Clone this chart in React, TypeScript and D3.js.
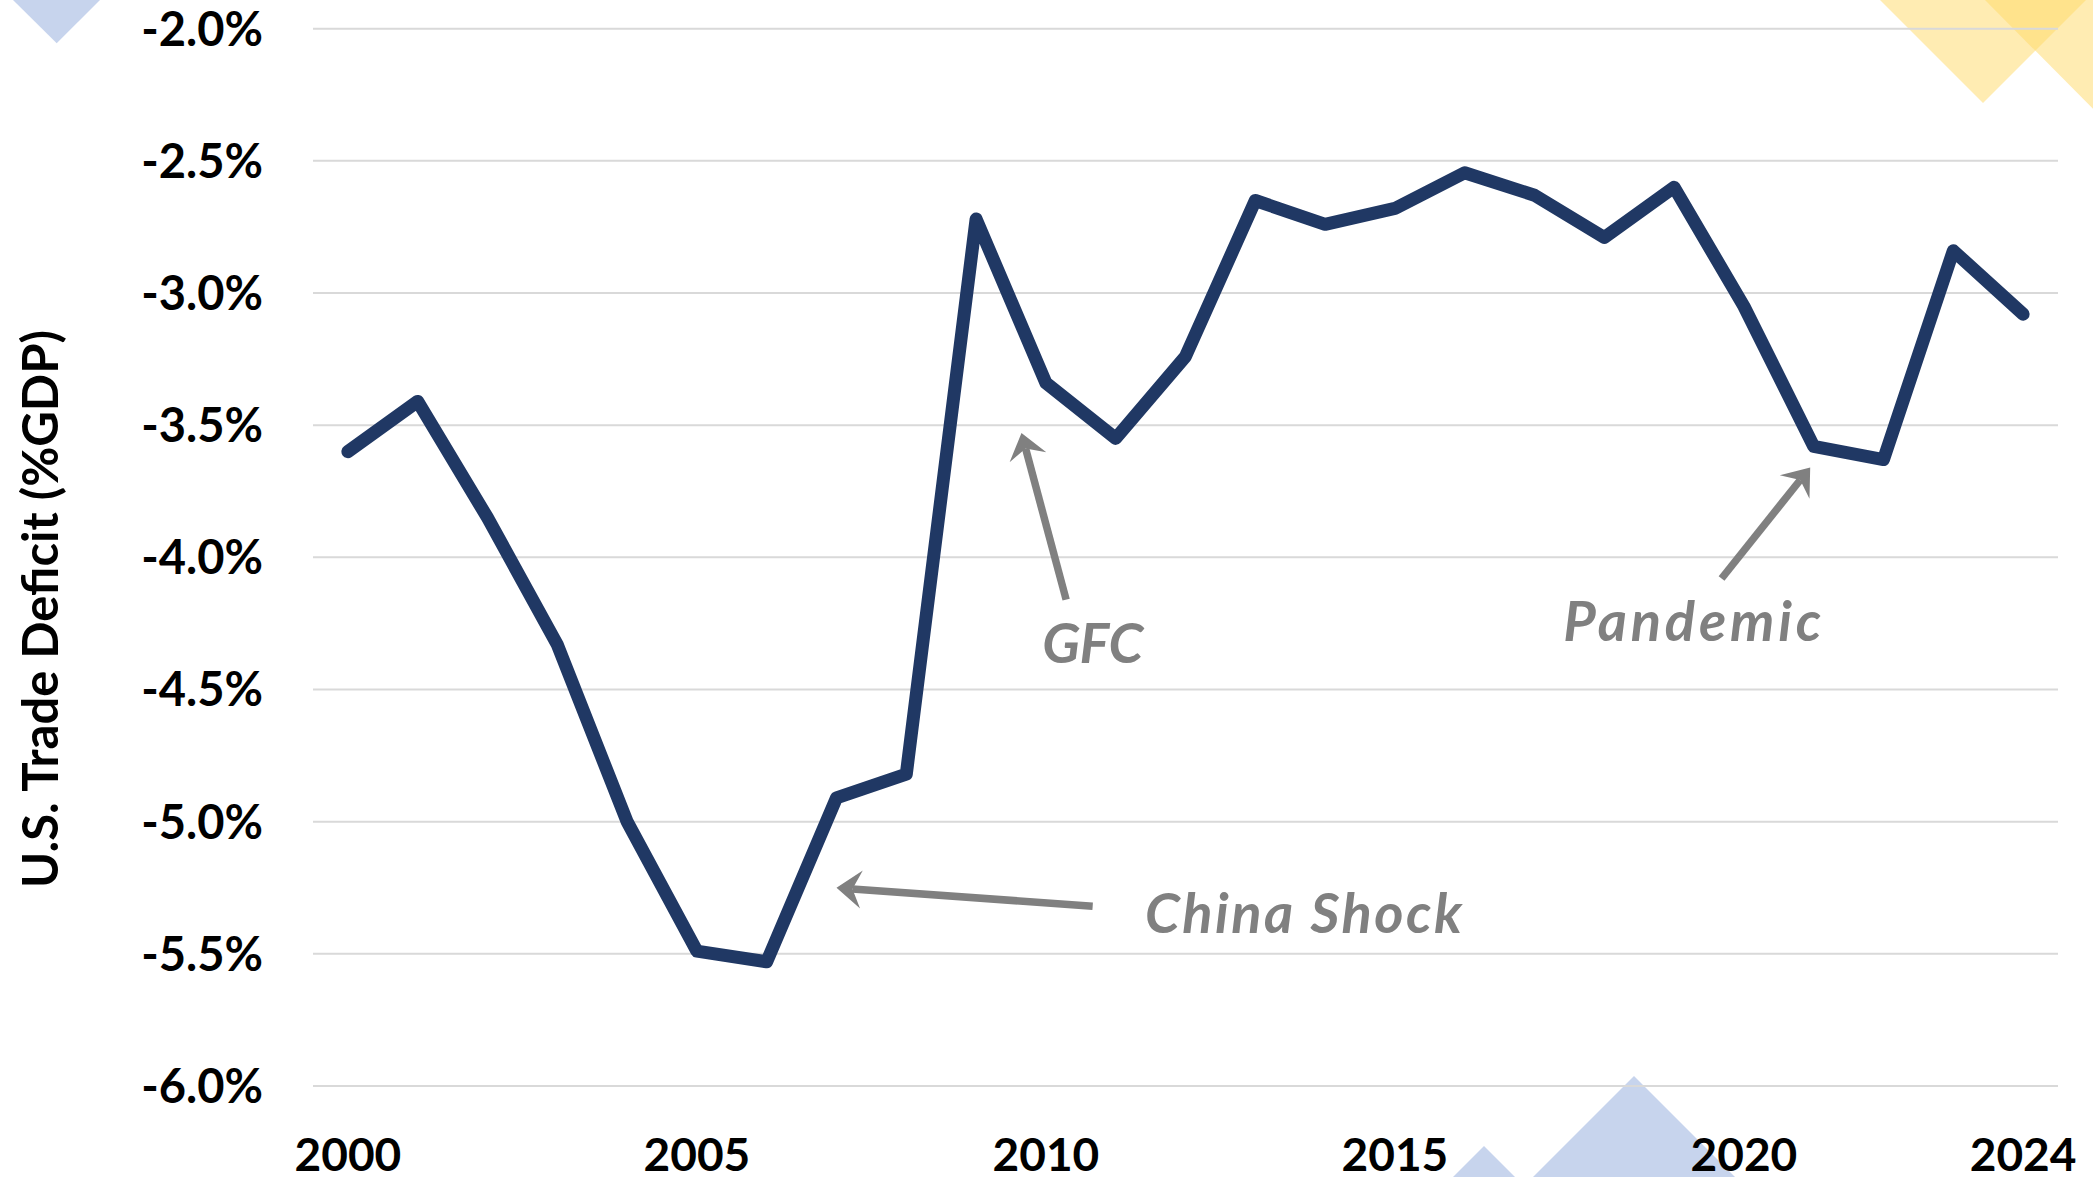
import React from "react";
import * as d3 from "d3";

const years: number[] = [
  2000, 2001, 2002, 2003, 2004, 2005, 2006, 2007, 2008, 2009, 2010, 2011, 2012,
  2013, 2014, 2015, 2016, 2017, 2018, 2019, 2020, 2021, 2022, 2023, 2024,
];
const deficitPct: number[] = [
  -3.6, -3.41, -3.85, -4.33, -5.0, -5.49, -5.53, -4.91, -4.82, -2.72, -3.34,
  -3.55, -3.24, -2.65, -2.74, -2.68, -2.545, -2.63, -2.79, -2.6, -3.05, -3.58,
  -3.63, -2.84, -3.08,
];
const yTicks: number[] = [-2.0, -2.5, -3.0, -3.5, -4.0, -4.5, -5.0, -5.5, -6.0];
const xTickYears: number[] = [2000, 2005, 2010, 2015, 2020, 2024];
const yTitle = "U.S. Trade Deficit (%GDP)";

// annotations in data space: [year, value]
const annotations = [
  { label: "GFC", tip: [2009.65, -3.53], tail: [2010.29, -4.16], text: [2010.67, -4.4], anchor: "middle", len: 101 },
  { label: "Pandemic", tip: [2020.95, -3.66], tail: [2019.68, -4.08], text: [2019.26, -4.316], anchor: "middle", len: 258 },
  { label: "China Shock", tip: [2007.0, -5.25], tail: [2010.67, -5.32], text: [2011.42, -5.42], anchor: "start", len: 317 },
];

const W = 2093;
const H = 1177;
const FONT = "Lato, 'Open Sans', sans-serif";

export default function App() {
  const x = d3.scalePoint<number>().domain(years).range([313, 2058]).padding(0.5);
  const xc = d3.scaleLinear().domain([2000, 2024]).range([x(2000)!, x(2024)!]);
  const y = d3.scaleLinear().domain([-6, -2]).range([1086, 28.7]);

  const line = d3
    .line<number>()
    .x((_, i) => x(years[i])!)
    .y((d) => y(d));

  const arrowHead = (tx: number, ty: number, fx: number, fy: number) => {
    const ang = Math.atan2(ty - fy, tx - fx);
    const L = 25;
    const hw = 19;
    const notch = 16;
    const cos = Math.cos(ang), sin = Math.sin(ang);
    const p = (a: number, b: number) => [tx - a * cos - b * -sin, ty - a * sin - b * cos];
    const pts = [p(0, 0), p(L, hw), p(notch, 0), p(L, -hw)];
    return pts.map((q) => q.join(",")).join(" ");
  };

  return (
    <svg
      width={W}
      height={H}
      style={{ position: "absolute", left: 0, top: 0, background: "#fff" }}
    >
      {/* decorative shapes */}
      <polygon points="13,0 100,0 56.7,43.3" fill="#8FAADC" opacity={0.5} />
      <polygon points="1880,0 2086,0 1983,103" fill="#FFD966" opacity={0.5} />
      <polygon points="1985,0 2240,0 2112,128" fill="#FFD966" opacity={0.5} />
      <polygon points="1533,1177 1634,1076 1735,1177" fill="#8FAADC" opacity={0.5} />
      <polygon points="1453,1177 1484,1146 1515,1177" fill="#8FAADC" opacity={0.5} />

      {/* gridlines */}
      {yTicks.map((t) => (
        <line key={t} x1={313} x2={2058} y1={y(t)} y2={y(t)} stroke="#D9D9D9" strokeWidth={2} />
      ))}

      {/* y tick labels */}
      {yTicks.map((t) => (
        <text
          key={"l" + t}
          x={263}
          y={y(t)}
          dy="0.36em"
          textAnchor="end"
          fontFamily={FONT}
          fontWeight={700}
          fontSize={47}
          fill="#000"
        >
          {t.toFixed(1) + "%"}
        </text>
      ))}

      {/* x tick labels */}
      {xTickYears.map((yr) => (
        <text
          key={"x" + yr}
          x={x(yr)}
          y={1171}
          textAnchor="middle"
          fontFamily={FONT}
          fontWeight={700}
          fontSize={46}
          fill="#000"
        >
          {yr}
        </text>
      ))}

      {/* y title */}
      <text
        transform="translate(58,609) rotate(-90)"
        textAnchor="middle"
        fontFamily={FONT}
        fontWeight={700}
        fontSize={49}
        fill="#000"
      >
        {yTitle}
      </text>

      {/* data line */}
      <path
        d={line(deficitPct) || ""}
        fill="none"
        stroke="#203864"
        strokeWidth={13}
        strokeLinejoin="round"
        strokeLinecap="round"
      />

      {/* annotations */}
      {annotations.map((a) => {
        const tx = xc(a.tip[0]), ty = y(a.tip[1]);
        const fx = xc(a.tail[0]), fy = y(a.tail[1]);
        const ang = Math.atan2(ty - fy, tx - fx);
        const ex = tx - 16 * Math.cos(ang), ey = ty - 16 * Math.sin(ang);
        return (
          <g key={a.label}>
            <line x1={fx} y1={fy} x2={ex} y2={ey} stroke="#808080" strokeWidth={7.5} />
            <polygon points={arrowHead(tx, ty, fx, fy)} fill="#808080" />
            <text
              x={xc(a.text[0])}
              y={y(a.text[1])}
              textAnchor={a.anchor}
              fontFamily={FONT}
              fontWeight={700}
              fontStyle="italic"
              fontSize={56}
              textLength={a.len}
              lengthAdjust="spacing"
              fill="#808080"
            >
              {a.label}
            </text>
          </g>
        );
      })}
    </svg>
  );
}
